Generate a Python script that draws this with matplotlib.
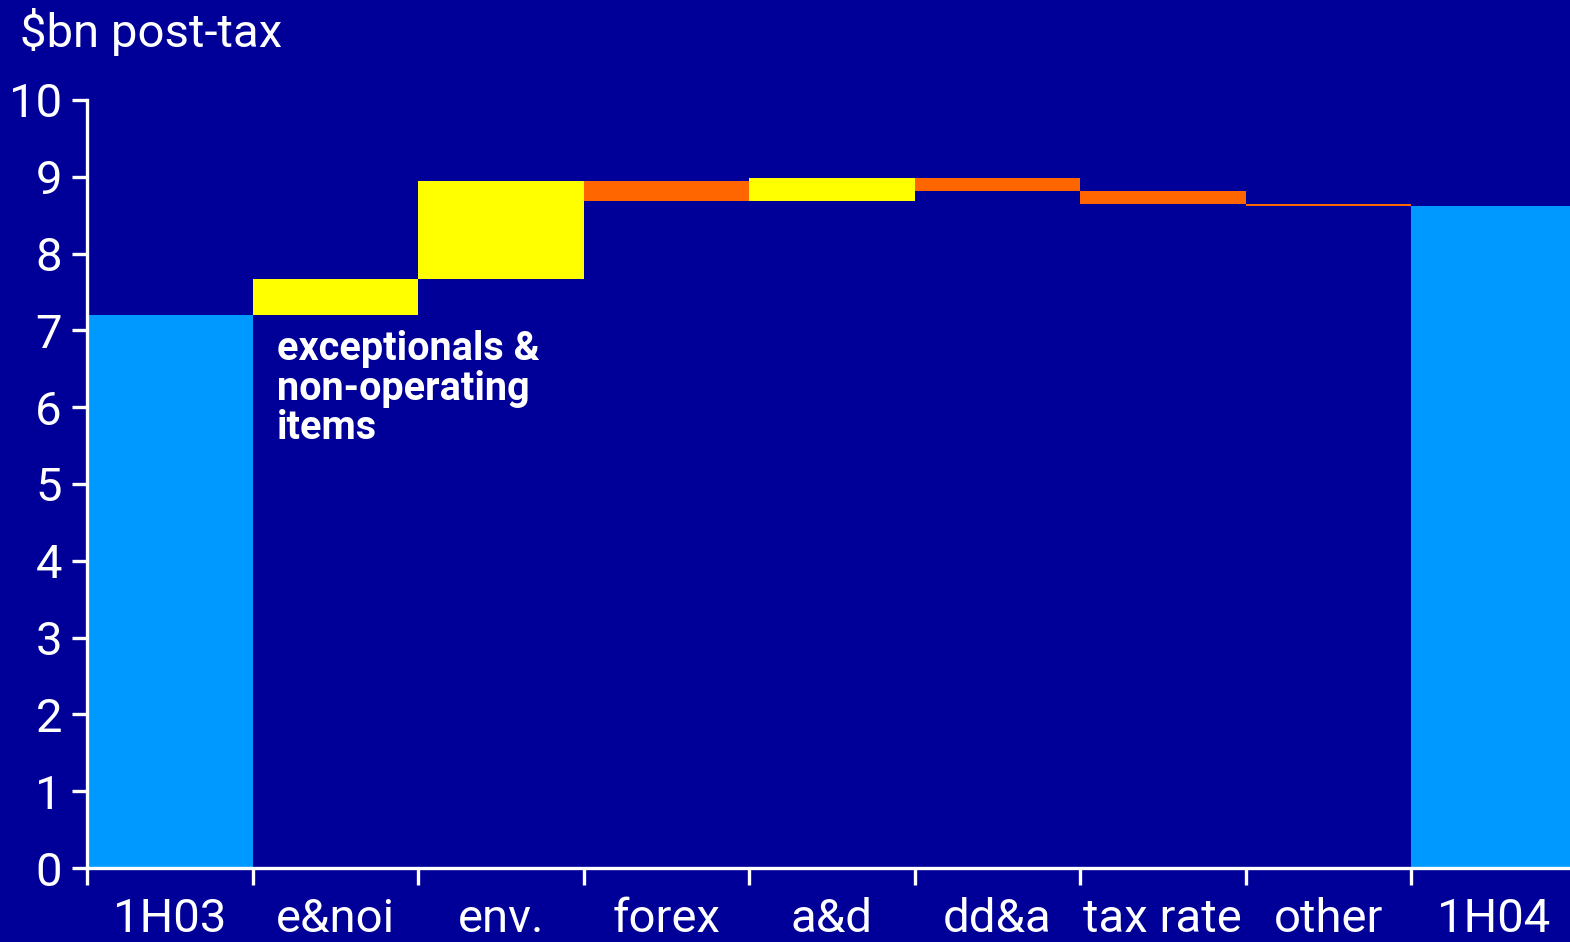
import matplotlib
matplotlib.use("Agg")
import matplotlib.pyplot as plt
import numpy as np

# Waterfall: 1H03 to 1H04 result, $bn post-tax
categories = ["1H03", "e&noi", "env.", "forex", "a&d", "dd&a", "tax rate", "other", "1H04"]
start_value = 7.20
deltas = [0.47, 1.27, -0.26, 0.30, -0.17, -0.17, -0.02]
end_value = 8.62
y_ticks = list(range(0, 11))

BG = "#000099"
TOTAL = "#0099FF"
UP = "#FFFF00"
DOWN = "#FF6600"
WHITE = "white"

fig = plt.figure(figsize=(15.7, 9.42), dpi=100, facecolor=BG)
ax = fig.add_axes([87 / 1570, 1 - 868 / 942, 1 - 87 / 1570, (868 - 100) / 942])
ax.set_facecolor(BG)

x = np.arange(len(categories))

# totals
ax.bar(x[0], start_value, width=1.0, color=TOTAL, linewidth=0)
ax.bar(x[-1], end_value, width=1.0, color=TOTAL, linewidth=0)

# floating steps
level = start_value
for i, d in enumerate(deltas, start=1):
    bottom = level if d >= 0 else level + d
    ax.bar(x[i], abs(d), bottom=bottom, width=1.0,
           color=UP if d >= 0 else DOWN, linewidth=0)
    level += d

ax.set_xlim(-0.5, -0.5 + (1570 - 87) / 165.5)
ax.set_ylim(0, 10)

# axes styling
for side in ("top", "right"):
    ax.spines[side].set_visible(False)
for side in ("left", "bottom"):
    ax.spines[side].set_color(WHITE)
    ax.spines[side].set_linewidth(2.4)
    ax.spines[side].set_capstyle("projecting")

tick_font = dict(family=["Roboto", "DejaVu Sans"], weight="normal", size=34)

ax.set_yticks(y_ticks)
ax.set_yticklabels([str(v) for v in y_ticks], fontdict=tick_font, color=WHITE)
ax.tick_params(axis="y", direction="out", length=11, width=2.4, color=WHITE, pad=7)

ax.set_xticks(x)
ax.set_xticklabels(categories, fontdict=tick_font, color=WHITE)
ax.tick_params(axis="x", which="major", length=0, pad=21)
ax.set_xticks(np.arange(-0.5, len(categories) - 1, 1.0), minor=True)
ax.tick_params(axis="x", which="minor", direction="out", length=12, width=2.4, color=WHITE)

ax.text(0.65, 7.0, "exceptionals &\nnon-operating\nitems",
        family=["Roboto", "DejaVu Sans"], weight="bold", size=28.5,
        color=WHITE, va="top", ha="left", linespacing=1.05)

fig.text(20 / 1570, 1 - 32 / 942, "$bn post-tax", color=WHITE, va="center", ha="left",
         family=["Roboto", "DejaVu Sans"], weight="normal", size=34)

fig.savefig("out.png", dpi=100, facecolor=BG)
